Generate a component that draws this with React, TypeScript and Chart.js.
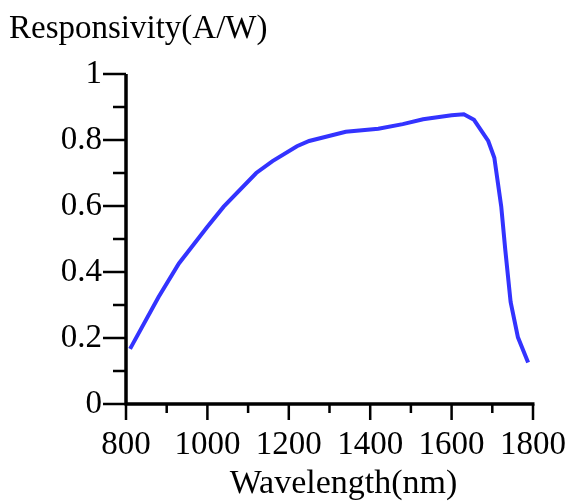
import React, { useEffect, useRef } from "react";
import { Chart, registerables } from "chart.js";

Chart.register(...registerables);

const wavelength = [810, 880, 930, 1000, 1040, 1120, 1160, 1220, 1250, 1340, 1420, 1480, 1530, 1600, 1630, 1655, 1690, 1705, 1722, 1732, 1745, 1763, 1788];
const responsivity = [0.167, 0.324, 0.426, 0.537, 0.598, 0.7, 0.736, 0.781, 0.797, 0.825, 0.834, 0.848, 0.863, 0.875, 0.878, 0.861, 0.797, 0.746, 0.598, 0.466, 0.309, 0.202, 0.126];
const xMajorTicks = [800, 1000, 1200, 1400, 1600, 1800];
const xMinorTicks = [900, 1100, 1300, 1500, 1700];
const yMajorTicks = [0, 0.2, 0.4, 0.6, 0.8, 1];
const yMinorTicks = [0.1, 0.3, 0.5, 0.7, 0.9];
const yTitle = "Responsivity(A/W)";
const xTitle = "Wavelength(nm)";

const FONT = "'Liberation Serif', 'Times New Roman', serif";

const axesPlugin = {
  id: "axesPlugin",
  afterDatasetsDraw(chart: any) {
    const ctx = chart.ctx;
    const xs = chart.scales.x;
    const ys = chart.scales.y;
    const x0 = xs.getPixelForValue(800);
    const x1 = xs.getPixelForValue(1800);
    const y0 = ys.getPixelForValue(0);
    const y1 = ys.getPixelForValue(1);
    ctx.save();
    ctx.strokeStyle = "#000";
    ctx.lineCap = "butt";
    ctx.lineWidth = 3.5;
    ctx.beginPath();
    ctx.moveTo(x0, y1);
    ctx.lineTo(x0, y0);
    ctx.moveTo(x0 - 1.5, y0);
    ctx.lineTo(x1 + 1.5, y0);
    ctx.stroke();
    ctx.lineWidth = 2.5;
    ctx.beginPath();
    for (const v of yMajorTicks) {
      const p = ys.getPixelForValue(v);
      ctx.moveTo(x0 - 23, p);
      ctx.lineTo(x0, p);
    }
    for (const v of yMinorTicks) {
      const p = ys.getPixelForValue(v);
      ctx.moveTo(x0 - 13, p);
      ctx.lineTo(x0, p);
    }
    for (const v of xMajorTicks) {
      const p = xs.getPixelForValue(v);
      ctx.moveTo(p, y0);
      ctx.lineTo(p, y0 + 16);
    }
    for (const v of xMinorTicks) {
      const p = xs.getPixelForValue(v);
      ctx.moveTo(p, y0);
      ctx.lineTo(p, y0 + 9);
    }
    ctx.stroke();
    ctx.fillStyle = "#000";
    ctx.font = `33px ${FONT}`;
    ctx.textBaseline = "alphabetic";
    ctx.textAlign = "left";
    ctx.fillText(yTitle, 9, 38);
    ctx.textAlign = "center";
    ctx.font = `34px ${FONT}`;
    ctx.fillText(xTitle, (x0 + x1) / 2 + 14, 493);
    ctx.restore();
  },
};

export default function App() {
  const ref = useRef<HTMLCanvasElement>(null);
  useEffect(() => {
    if (!ref.current) return;
    const chart = new Chart(ref.current, {
      type: "line",
      data: {
        datasets: [
          {
            data: wavelength.map((w, i) => ({ x: w, y: responsivity[i] })),
            borderColor: "#3333ff",
            borderWidth: 4,
            pointRadius: 0,
            tension: 0,
            fill: false,
          },
        ],
      },
      options: {
        animation: false,
        responsive: false,
        events: [],
        layout: { padding: { top: 74, right: 36, left: 0, bottom: 0 } },
        plugins: { legend: { display: false }, tooltip: { enabled: false }, title: { display: false } },
        scales: {
          x: {
            type: "linear",
            min: 800,
            max: 1800,
            grid: { display: false, drawTicks: false },
            border: { display: false },
            afterFit: (s: any) => {
              s.height = 97;
              s.paddingLeft = 0;
              s.paddingRight = 0;
            },
            ticks: {
              stepSize: 200,
              padding: 22,
              color: "#000",
              maxRotation: 0,
              autoSkip: false,
              font: { family: FONT, size: 33 },
              callback: (v: any) => String(v),
            },
          },
          y: {
            type: "linear",
            min: 0,
            max: 1,
            grid: { display: false, drawTicks: false },
            border: { display: false },
            afterFit: (s: any) => {
              s.width = 126;
              s.paddingTop = 0;
              s.paddingBottom = 0;
            },
            ticks: {
              stepSize: 0.2,
              padding: 24,
              color: "#000",
              font: { family: FONT, size: 33 },
              callback: (v: any) => String(Math.round(Number(v) * 10) / 10),
            },
          },
        },
      },
      plugins: [axesPlugin],
    });
    return () => chart.destroy();
  }, []);
  return (
    <div style={{ position: "fixed", left: 0, top: 0, width: 569, height: 501, background: "#fff" }}>
      <canvas ref={ref} width={569} height={501} />
    </div>
  );
}
